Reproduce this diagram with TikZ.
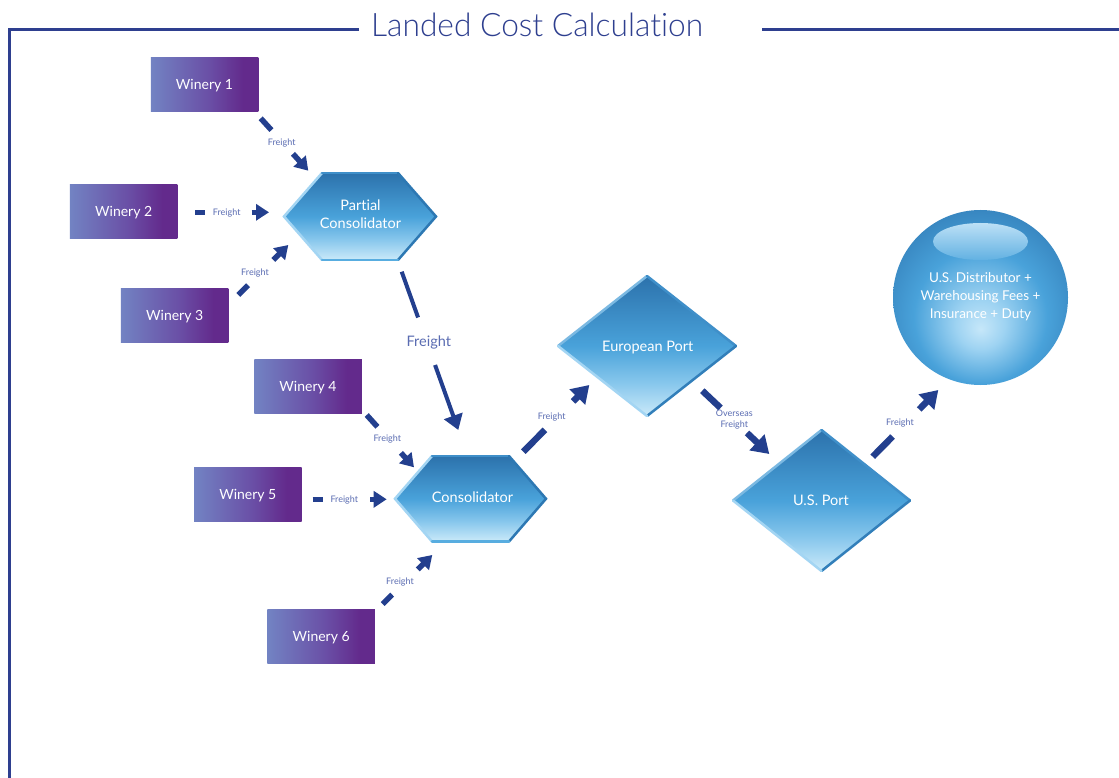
\documentclass[tikz,border=0pt]{standalone}
\usepackage{fontspec}
\usepackage{graphicx}
\setmainfont{Lato}[Ligatures=NoCommon]
\newfontfamily\titlefont{Lato Light}[Ligatures=NoCommon]
\usetikzlibrary{arrows.meta,calc}
\definecolor{arrowblue}{HTML}{233F8E}
\definecolor{lblblue}{HTML}{5A6CB2}
\definecolor{titleblue}{HTML}{2E3F8F}
\definecolor{wl}{HTML}{7283C3}
\definecolor{wm}{HTML}{6A4FA6}
\definecolor{wr}{HTML}{632A8C}
\definecolor{hbot}{HTML}{CBEAF9}
\definecolor{hlow}{HTML}{86C6EC}
\definecolor{hmid}{HTML}{49A2DA}
\definecolor{htop}{HTML}{2C72AC}
\definecolor{ballin}{HTML}{C6E7F9}
\definecolor{ballintwo}{HTML}{9ED3F2}
\definecolor{ballout}{HTML}{2F78B3}
\definecolor{ehtop}{HTML}{BCE0F6}
\definecolor{ehbot}{HTML}{62B1E2}
\definecolor{elight}{HTML}{A3D5F3}
\definecolor{emid}{HTML}{3F8FC9}
\definecolor{edark}{HTML}{2D78B3}
\definecolor{ebot}{HTML}{58ADE0}
\pgfdeclarehorizontalshading{wineshade}{100bp}{color(0bp)=(wl); color(25bp)=(wl); color(52bp)=(wm); color(68bp)=(wr); color(100bp)=(wr)}
\pgfdeclareverticalshading{glossshade}{100bp}{color(0bp)=(hbot); color(25bp)=(hbot); color(37bp)=(hlow); color(50bp)=(hmid); color(75bp)=(htop); color(100bp)=(htop)}
\pgfdeclareradialshading{ballshade}{\pgfpoint{0bp}{-9bp}}{color(0bp)=(ballin); color(7bp)=(ballintwo); color(19bp)=(hmid); color(34bp)=(ballout); color(50bp)=(ballout)}
\newcommand{\glosshex}[5]{% cx cy halfwidth inset halfheight
  \begin{scope}[shift={(#1,#2)}]
    \path[shade,shading=glossshade] (-#3,0) -- (-#3+#4,-#5) -- (#3-#4,-#5) -- (#3,0) -- (#3-#4,#5) -- (-#3+#4,#5) -- cycle;
    \draw[gedge,elight] (-#3+#4,#5) -- (-#3,0) -- (-#3+#4,-#5);
    \draw[gedge,emid] (-#3+#4,-#5) -- (#3-#4,-#5);
    \draw[gedge,edark] (#3-#4,-#5) -- (#3,0) -- (#3-#4,#5);
    \draw[gedge,ebot] (#3-#4,#5) -- (-#3+#4,#5);
  \end{scope}}
\newcommand{\glossdia}[4]{% cx cy halfwidth halfheight
  \begin{scope}[shift={(#1,#2)}]
    \path[shade,shading=glossshade] (-#3,0) -- (0,-#4) -- (#3,0) -- (0,#4) -- cycle;
    \draw[gedge,elight!60!emid] (-#3,0) -- (0,-#4);
    \draw[gedge,emid] (0,-#4) -- (#3,0);
    \draw[gedge,edark!70!emid] (#3,0) -- (0,#4);
    \draw[gedge,elight] (0,#4) -- (-#3,0);
  \end{scope}}
\begin{document}
\begin{tikzpicture}[x=1pt,y=-1pt,
  frame/.style={draw=titleblue, line width=3pt, line join=miter},
  winery/.style={shade, shading=wineshade, minimum width=107.5pt, minimum height=54pt, inner sep=0pt, text=white, font=\fontsize{14}{16}\selectfont, text height=10pt, text depth=0pt},
  ctext/.style={text=white, inner sep=0pt, font=\fontsize{14.5}{17}\selectfont, text height=10.4pt, text depth=0pt},
  btext/.style={text=white, inner sep=0pt, font=\fontsize{13.5}{16}\selectfont, text height=9.7pt, text depth=0pt},
  flabel/.style={text=lblblue, inner sep=0pt, font=\fontsize{9}{11}\selectfont, text height=6.5pt, text depth=0pt},
  biglabel/.style={text=lblblue, inner sep=0pt, font=\fontsize{14.5}{17}\selectfont, text height=10.4pt, text depth=0pt},
  gedge/.style={line width=2.5pt, line cap=round},
  fconn/.style 2 args={draw=arrowblue, line width=5.5pt, dash pattern=on #1pt off #2pt on 2000pt, -{Triangle[length=13pt,width=16pt]}},
  midconn/.style 2 args={draw=arrowblue, line width=4pt, dash pattern=on #1pt off #2pt on 2000pt, -{Triangle[length=15pt,width=19pt]}},
  bigconn/.style 2 args={draw=arrowblue, line width=6.5pt, dash pattern=on #1pt off #2pt on 2000pt, -{Triangle[length=17pt,width=21pt]}}
]
\useasboundingbox (0,0) rectangle (1119,778);
\fill[white] (0,0) rectangle (1119,778);

% frame and title
\draw[frame] (359,30) -- (9.5,30) -- (9.5,780);
\draw[frame] (762,30) -- (1121,30);
\node[anchor=base west, inner sep=0pt, text=titleblue] (title) at (371,36.7) {\resizebox{332pt}{23.5pt}{\titlefont Landed Cost Calculation}};

% wineries
\node[winery] (w1) at (204.5,85) {Winery 1};
\node[winery] (w2) at (123.7,211.3) {Winery 2};
\node[winery] (w3) at (174.7,315.5) {Winery 3};
\node[winery] (w4) at (308,386.3) {Winery 4};
\node[winery] (w5) at (247.8,494.5) {Winery 5};
\node[winery] (w6) at (321.2,636.3) {Winery 6};

% consolidators
\glosshex{360}{216.5}{76}{38}{43.5}
\node[ctext] (pc1) at (360.5,205) {Partial};
\node[ctext] (pc2) at (360.5,223) {Consolidator};
\glosshex{470.5}{498.75}{75.5}{37}{42.75}
\node[ctext] (con) at (472.5,497.3) {Consolidator};

% ports
\glossdia{647}{346}{89}{70}
\node[ctext] (ep) at (647.8,346.3) {European Port};
\glossdia{821.5}{500.5}{88.5}{70.5}
\node[ctext] (usp) at (821,500.5) {U.S. Port};

% distributor ball
\path[shade, shading=ballshade] (980.5,297.5) circle[radius=87.5];
\path[shade, top color=ehtop, bottom color=ehbot] (980.5,241.5) ellipse[x radius=47.5, y radius=18.5];
\node[btext] (d1) at (980.5,277.8) {U.S. Distributor +};
\node[btext] (d2) at (980.5,296.1) {Warehousing Fees +};
\node[btext] (d3) at (980.5,313.4) {Insurance + Duty};

% connector end points
\coordinate (w1o) at (260.7,118.3); \coordinate (pci1) at (308.3,170.7);
\coordinate (w2o) at (195,212.3);   \coordinate (pci2) at (269,212.3);
\coordinate (w3o) at (238.3,295);   \coordinate (pci3) at (288.3,245);
\coordinate (pco) at (401.7,271.7); \coordinate (coni0) at (458.3,430);
\coordinate (w4o) at (366.7,415);   \coordinate (coni4) at (414,467.3);
\coordinate (w5o) at (312.7,499.3); \coordinate (coni5) at (386.7,499.3);
\coordinate (w6o) at (382.7,604);   \coordinate (coni6) at (432.3,555);
\coordinate (cono) at (523.3,451.7); \coordinate (epi) at (589.3,385);
\coordinate (epo) at (702.3,390.7); \coordinate (uspi) at (769.3,454);
\coordinate (uspo) at (872.7,456.7); \coordinate (disti) at (938.3,390);

% connectors
\draw[fconn={16}{32}] (w1o) -- (pci1);
\draw[fconn={10}{46.7}] (w2o) -- (pci2);
\draw[fconn={13.8}{35.8}] (w3o) -- (pci3);
\draw[midconn={48.6}{50.5}] (pco) -- (coni0);
\draw[fconn={16}{35}] (w4o) -- (coni4);
\draw[fconn={10}{47.3}] (w5o) -- (coni5);
\draw[fconn={13.3}{36}] (w6o) -- (coni6);
\draw[bigconn={30.8}{40}] (cono) -- (epi);
\draw[bigconn={25.1}{36.4}] (epo) -- (uspi);
\draw[bigconn={28.3}{38}] (uspo) -- (disti);

% labels
\node[flabel] (l1) at (281.7,142) {Freight};
\node[flabel] (l2) at (226.7,212.6) {Freight};
\node[flabel] (l3) at (255,272) {Freight};
\node[biglabel] (l4) at (428.8,341.2) {Freight};
\node[flabel] (l5) at (387.3,438.6) {Freight};
\node[flabel] (l6) at (344.3,499.2) {Freight};
\node[flabel] (l7) at (400,581.6) {Freight};
\node[flabel] (l8) at (551.7,416.3) {Freight};
\node[flabel] (l9a) at (734.3,413.3) {Overseas};
\node[flabel] (l9b) at (734.3,424.6) {Freight};
\node[flabel] (l10) at (900,422) {Freight};
\end{tikzpicture}
\end{document}
